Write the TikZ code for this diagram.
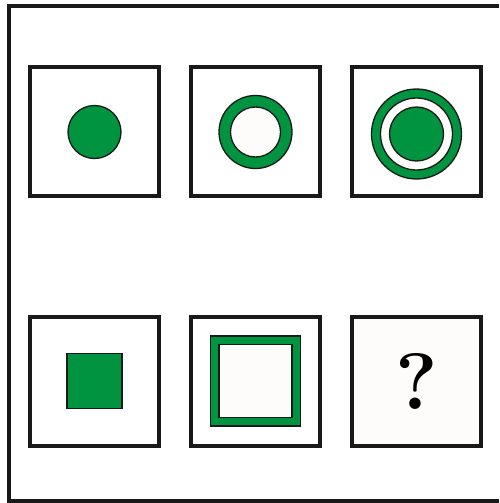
\documentclass[tikz,border=0pt]{standalone}
\usepackage{fontspec}
\usepackage{tikz}
\usetikzlibrary{positioning}
\definecolor{puzzlegreen}{RGB}{0,148,64}
\definecolor{paper}{RGB}{253,252,250}
\tikzset{
  cellbox/.style={draw=black!90, line width=4pt, fill=white, minimum size=129pt, inner sep=0pt},
  greendisc/.style={draw=black!90, line width=1.3pt, fill=puzzlegreen, circle, inner sep=0pt},
  whitedisc/.style={draw=black!90, line width=1.3pt, fill=paper, circle, inner sep=0pt},
  greensq/.style={draw=black!90, line width=1.3pt, fill=puzzlegreen, inner sep=0pt},
  whitesq/.style={draw=black!90, line width=1.3pt, fill=paper, inner sep=0pt},
  framestyle/.style={draw=black!90, line width=3.5pt}
}
\begin{document}
\begin{tikzpicture}[x=1pt, y=-1pt]
  \useasboundingbox (0,0) rectangle (499,503);
  \coordinate (tr) at (499,6);
  \coordinate (br) at (499,501);
  \draw[framestyle] (tr) -| (9,501) -- (br);
  % top row
  \node[cellbox] (a1) at (94.5,131.5) {};
  \node[cellbox] (a2) at (255.5,131.5) {};
  \node[cellbox] (a3) at (416.5,131.5) {};
  \node[greendisc, minimum size=53pt] (dot1) at (94.5,132) {};
  \node[greendisc, minimum size=73pt] (ring2) at (255.5,132) {};
  \node[whitedisc, minimum size=50pt] (hole2) at (ring2.center) {};
  \node[greendisc, minimum size=90pt] (ring3) at (416.5,134) {};
  \node[whitedisc, minimum size=72pt] (hole3) at (ring3.center) {};
  \node[greendisc, minimum size=54pt] (dot3) at (ring3.center) {};
  % bottom row
  \node[cellbox] (b1) at (94.5,381) {};
  \node[cellbox] (b2) at (255.5,381) {};
  \node[cellbox, fill=paper, font=\bfseries\fontsize{80}{90}\selectfont] (b3) at (416.5,381) {?};
  \node[greensq, minimum size=55pt] (sq1) at (94.5,381) {};
  \node[greensq, minimum size=90pt] (sq2) at (255.5,381) {};
  \node[whitesq, minimum size=73pt] (hole4) at (sq2.center) {};
\end{tikzpicture}
\end{document}
